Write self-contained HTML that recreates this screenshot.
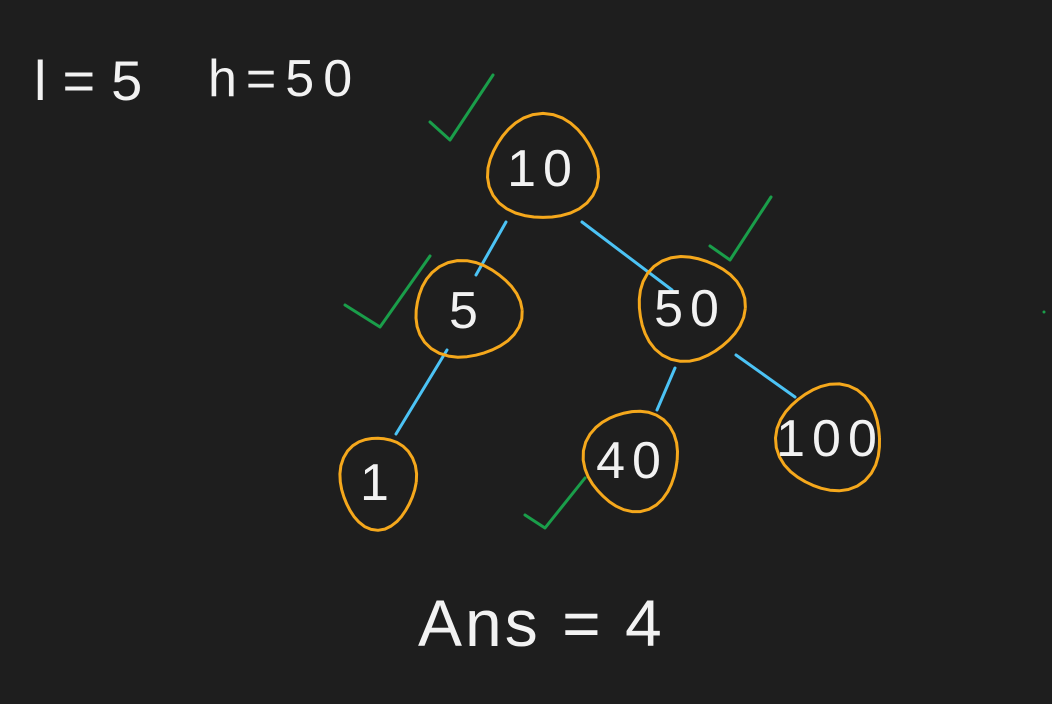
<!DOCTYPE html>
<html><head><meta charset="utf-8"><style>
html,body{margin:0;padding:0;background:#1e1e1e;}
svg{display:block;}
text{font-family:"Liberation Sans",sans-serif;fill:#f2f2f2;}
</style></head><body>
<svg id="c" width="1052" height="704" viewBox="0 0 1052 704">
<rect width="1052" height="704" fill="#1e1e1e"/>
<text x="34" y="100" font-size="56" letter-spacing="16">l=5</text>
<text x="208" y="96" font-size="52" letter-spacing="9">h=50</text>
<text x="418" y="646" font-size="66" letter-spacing="3">Ans = 4</text>
<circle cx="1044" cy="312" r="1.5" fill="#1a9e4a"/>
</svg>
<script>
const nodeLabels = ["10","5","50","1","40","100"];
const nodeX = [543,467,690,378,632,830];
const nodeY = [168,310,308,482,460,438];
const nodeRx = [55,53,53,38,47,52];
const nodeRy = [52,48,52,46,50,53];
const edgeFrom = [[506,222],[582,222],[447,350],[675,368],[736,355]];
const edgeTo = [[476,275],[672,290],[396,434],[657,410],[795,397]];
const checks = [[[430,122],[450,140],[493,75]],[[710,246],[730,260],[771,197]],[[345,305],[380,327],[430,256]],[[525,515],[545,528],[585,478]]];
const svg = document.getElementById('c');
const NS = 'http://www.w3.org/2000/svg';
edgeFrom.forEach((f,i)=>{
  const l=document.createElementNS(NS,'line');
  l.setAttribute('x1',f[0]);l.setAttribute('y1',f[1]);l.setAttribute('x2',edgeTo[i][0]);l.setAttribute('y2',edgeTo[i][1]);
  l.setAttribute('stroke','#4cc3f5');l.setAttribute('stroke-width','3');l.setAttribute('stroke-linecap','round');
  
  
  svg.appendChild(l);
});
nodeLabels.forEach((lab,i)=>{
  const cx=nodeX[i],cy=nodeY[i],rx=nodeRx[i],ry=nodeRy[i];
  let d='';
  for(let k=0;k<=36;k++){
    const a=k/36*Math.PI*2;
    const w=1+0.05*Math.sin(3*a+i);
    const x=cx+rx*w*Math.cos(a),y=cy+ry*w*Math.sin(a);
    d+=(k?'L':'M')+x.toFixed(1)+','+y.toFixed(1);
  }
  const p=document.createElementNS(NS,'path');
  p.setAttribute('d',d);p.setAttribute('fill','none');p.setAttribute('stroke','#f5a81c');p.setAttribute('stroke-width','3');p.setAttribute('stroke-linejoin','round');
  
  
  svg.appendChild(p);
  const t=document.createElementNS(NS,'text');
  t.setAttribute('x',cx);t.setAttribute('y',cy+18);t.setAttribute('text-anchor','middle');
  t.setAttribute('font-size','52');t.setAttribute('letter-spacing','7');
  t.textContent=lab;
  
  
  svg.appendChild(t);
});
checks.forEach(c=>{
  const p=document.createElementNS(NS,'polyline');
  p.setAttribute('points',c.map(q=>q.join(',')).join(' '));
  p.setAttribute('fill','none');p.setAttribute('stroke','#1a9e4a');p.setAttribute('stroke-width','3');p.setAttribute('stroke-linecap','round');p.setAttribute('stroke-linejoin','round');
  
  
  svg.appendChild(p);
});
</script>
</body></html>
